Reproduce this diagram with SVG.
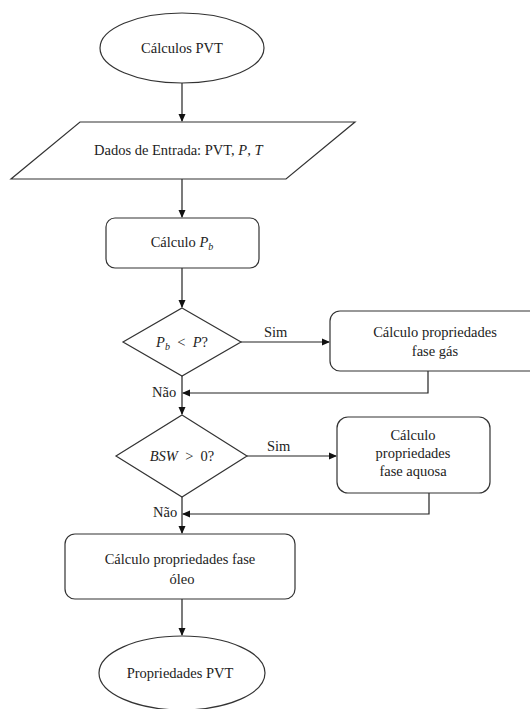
<svg xmlns="http://www.w3.org/2000/svg" width="530" height="709" viewBox="0 0 530 709">
<style>
.s{fill:#fff;stroke:#333;stroke-width:1.2}
.t{font-family:"Liberation Serif","Times New Roman",serif;font-size:14.5px;fill:#222}
.c{text-anchor:middle}
.i{font-style:italic}
.l{fill:none;stroke:#222;stroke-width:1.2}
</style>
<defs>
<marker id="a" markerWidth="8" markerHeight="8" refX="7" refY="4" orient="auto" markerUnits="userSpaceOnUse">
<path d="M0,0.5 L8,4 L0,7.5 Z" fill="#111"/>
</marker>
</defs>
<rect width="530" height="709" fill="#fff"/>
<g id="connectors">
<line class="l" x1="182" y1="83" x2="182" y2="121" marker-end="url(#a)"/>
<line class="l" x1="182" y1="179" x2="182" y2="217" marker-end="url(#a)"/>
<line class="l" x1="182" y1="268" x2="182" y2="307" marker-end="url(#a)"/>
<line class="l" x1="241" y1="342" x2="329" y2="342" marker-end="url(#a)"/>
<line class="l" x1="182" y1="376" x2="182" y2="414" marker-end="url(#a)"/>
<polyline class="l" points="428,371 428,393 183,393" marker-end="url(#a)"/>
<line class="l" x1="247" y1="456" x2="336" y2="456" marker-end="url(#a)"/>
<line class="l" x1="182" y1="497" x2="182" y2="533" marker-end="url(#a)"/>
<polyline class="l" points="429,493 429,514 183,514" marker-end="url(#a)"/>
<line class="l" x1="182" y1="599" x2="182" y2="635" marker-end="url(#a)"/>
<text class="t" x="264" y="337">Sim</text>
<text class="t" x="152" y="397">Não</text>
<text class="t" x="267" y="451">Sim</text>
<text class="t" x="153" y="517">Não</text>
</g>
<g id="start">
<ellipse class="s" cx="182" cy="48" rx="82" ry="35"/>
<text class="t c" x="182" y="53">Cálculos PVT</text>
</g>
<g id="input">
<polygon class="s" points="80,122 355,122 286,179 11,179"/>
<text class="t" x="94" y="155">Dados de Entrada: PVT, <tspan class="i">P</tspan>, <tspan class="i">T</tspan></text>
</g>
<g id="pb">
<rect class="s" x="106" y="218" width="153" height="50" rx="9"/>
<text class="t c" x="182" y="247">Cálculo <tspan class="i">P</tspan><tspan class="i" font-size="10" dy="3">b</tspan></text>
</g>
<g id="dec1">
<polygon class="s" points="182,308 241,342 182,376 123,342"/>
<text class="t c" x="182" y="347" xml:space="preserve"><tspan class="i">P</tspan><tspan class="i" font-size="10" dy="3">b</tspan><tspan dy="-3">  &lt;  </tspan><tspan class="i">P</tspan>?</text>
</g>
<g id="gas">
<rect class="s" x="330" y="311" width="215" height="60" rx="10"/>
<text class="t c" x="435" y="337">Cálculo propriedades</text>
<text class="t c" x="435" y="356">fase gás</text>
</g>
<g id="dec2">
<polygon class="s" points="182,415 247,456 182,497 116,456"/>
<text class="t c" x="182" y="461" xml:space="preserve"><tspan class="i">BSW</tspan>  &gt;  0?</text>
</g>
<g id="aquosa">
<rect class="s" x="337" y="417" width="153" height="76" rx="11"/>
<text class="t c" x="413" y="440">Cálculo</text>
<text class="t c" x="413" y="458">propriedades</text>
<text class="t c" x="413" y="476">fase aquosa</text>
</g>
<g id="oleo">
<rect class="s" x="65" y="534" width="230" height="65" rx="10"/>
<text class="t c" x="180" y="564">Cálculo propriedades fase</text>
<text class="t c" x="182" y="584">óleo</text>
</g>
<g id="end">
<ellipse class="s" cx="182" cy="673" rx="83" ry="37"/>
<text class="t c" x="180" y="678">Propriedades PVT</text>
</g>
</svg>
